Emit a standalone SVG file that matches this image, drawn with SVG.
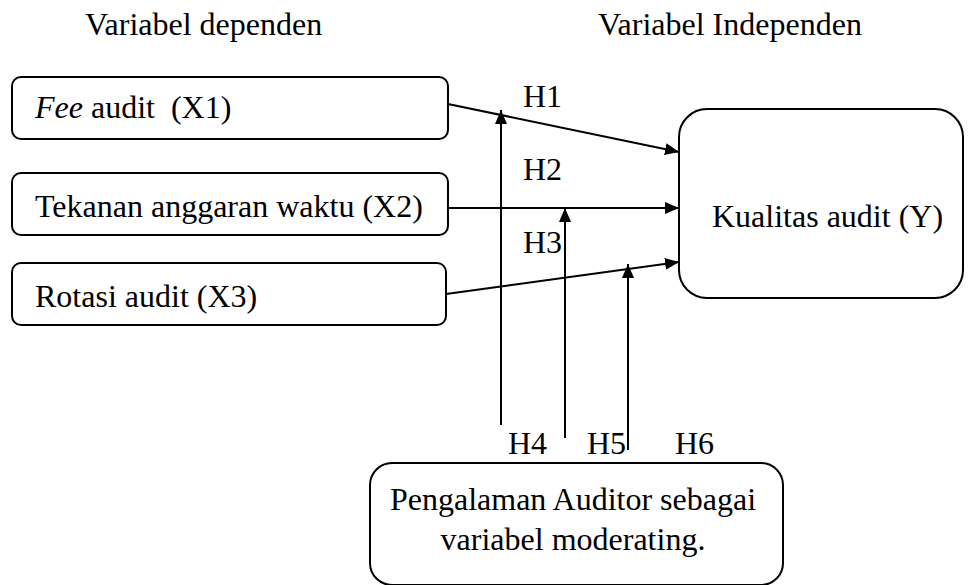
<svg xmlns="http://www.w3.org/2000/svg" width="970" height="585" viewBox="0 0 970 585" font-family="Liberation Serif, Times New Roman, serif">
<style>
text{font-size:32px;fill:#000}
.box{fill:#fff;stroke:#000;stroke-width:2}
.ln{stroke:#000;stroke-width:2;fill:none}
</style>
<defs>
<marker id="ah" viewBox="0 0 14 12" refX="14" refY="6" markerWidth="14" markerHeight="12" markerUnits="userSpaceOnUse" orient="auto">
<path d="M0,0 L14,6 L0,12 Z" fill="#000"/>
</marker>
</defs>
<text x="85" y="35">Variabel dependen</text>
<text x="598" y="35">Variabel Independen</text>
<g id="x1"><rect class="box" x="12" y="77" width="436" height="62" rx="9"/><text x="35" y="118"><tspan font-style="italic">Fee</tspan> audit&#160; (X1)</text></g>
<g id="x2"><rect class="box" x="12" y="173" width="436" height="62" rx="9"/><text x="35" y="217">Tekanan anggaran waktu (X2)</text></g>
<g id="x3"><rect class="box" x="12" y="263" width="434" height="62" rx="9"/><text x="35" y="307">Rotasi audit (X3)</text></g>
<g id="y"><rect class="box" x="679" y="109" width="284" height="189" rx="28"/><text x="712" y="227">Kualitas audit (Y)</text></g>
<g id="m"><rect class="box" x="370" y="463" width="413" height="122" rx="22"/><text x="573" y="510" text-anchor="middle">Pengalaman Auditor sebagai</text><text x="573" y="550" text-anchor="middle">variabel moderating.</text></g>
<g id="connectors">
<line class="ln" x1="448" y1="104" x2="679" y2="152" marker-end="url(#ah)"/>
<line class="ln" x1="448" y1="208" x2="679" y2="208" marker-end="url(#ah)"/>
<line class="ln" x1="446" y1="294" x2="679" y2="262" marker-end="url(#ah)"/>
<line class="ln" x1="501" y1="425" x2="501" y2="110" marker-end="url(#ah)"/>
<line class="ln" x1="565" y1="438" x2="565" y2="208" marker-end="url(#ah)"/>
<line class="ln" x1="628" y1="450" x2="628" y2="264" marker-end="url(#ah)"/>
</g>
<text x="523" y="107">H1</text>
<text x="523" y="180">H2</text>
<text x="523" y="253">H3</text>
<text x="508" y="454">H4</text>
<text x="587" y="454">H5</text>
<text x="675" y="454">H6</text>
</svg>
